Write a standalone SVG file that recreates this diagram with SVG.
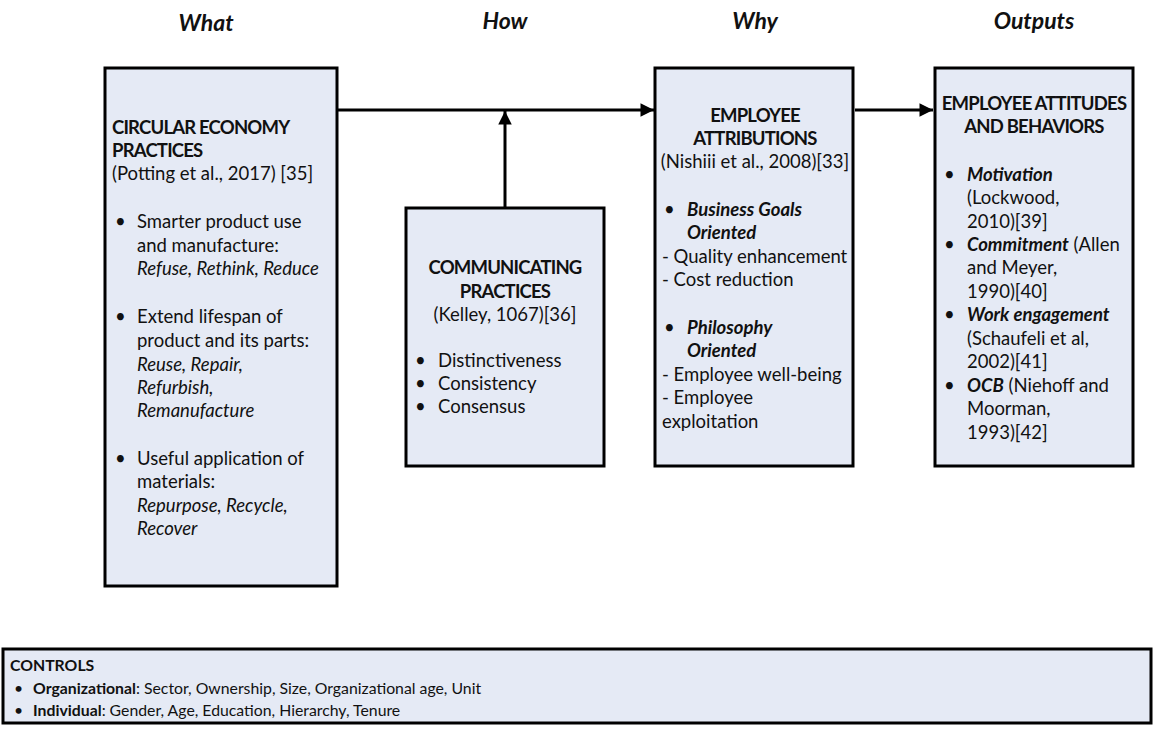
<svg xmlns="http://www.w3.org/2000/svg" width="1156" height="729" viewBox="0 0 1156 729">
<style>
text{font-family:Lato,"Open Sans","Liberation Sans",sans-serif;fill:#111;font-size:18.5px}
.hd{font-size:23px;font-weight:bold;font-style:italic}
.b{font-weight:bold}
.t{font-weight:bold;letter-spacing:-0.8px}
.i{font-style:italic}
.bi{font-weight:bold;font-style:italic}
.c{text-anchor:middle}
.box{fill:#e5eaf5;stroke:#000;stroke-width:3}
.ln{stroke:#000;stroke-width:3;fill:none}
.ctl{font-size:15.8px}
</style>
<defs>
<marker id="ah" viewBox="0 0 10 10" refX="10" refY="5" markerWidth="5.5" markerHeight="4.5" markerUnits="strokeWidth" orient="auto">
<path d="M0,0 L10,5 L0,10 z" fill="#000"/>
</marker>
</defs>
<rect width="1156" height="729" fill="#fff"/>
<g id="headers">
<text class="hd c" x="206" y="31">What</text>
<text class="hd c" x="505" y="29">How</text>
<text class="hd c" x="755" y="29">Why</text>
<text class="hd c" x="1034" y="29">Outputs</text>
</g>
<g id="connectors">
<line class="ln" x1="337" y1="110" x2="654" y2="110" marker-end="url(#ah)"/>
<line class="ln" x1="505" y1="208" x2="505" y2="111" marker-end="url(#ah)"/>
<line class="ln" x1="855" y1="110" x2="933" y2="110" marker-end="url(#ah)"/>
</g>
<g id="what">
<rect class="box" x="105" y="68" width="232" height="518"/>
<text class="t" x="112" y="134">CIRCULAR ECONOMY</text>
<text class="t" x="112" y="157">PRACTICES</text>
<text x="112" y="180">(Potting et al., 2017) [35]</text>
<text x="115" y="228">•</text>
<text x="137" y="228">Smarter product use</text>
<text x="137" y="252">and manufacture:</text>
<text class="i" x="137" y="275">Refuse, Rethink, Reduce</text>
<text x="115" y="323">•</text>
<text x="137" y="323">Extend lifespan of</text>
<text x="137" y="347">product and its parts:</text>
<text class="i" x="137" y="371">Reuse, Repair,</text>
<text class="i" x="137" y="394">Refurbish,</text>
<text class="i" x="137" y="417">Remanufacture</text>
<text x="115" y="465">•</text>
<text x="137" y="465">Useful application of</text>
<text x="137" y="488">materials:</text>
<text class="i" x="137" y="512">Repurpose, Recycle,</text>
<text class="i" x="137" y="535">Recover</text>
</g>
<g id="how">
<rect class="box" x="406" y="208" width="198" height="258"/>
<text class="t c" x="505" y="274">COMMUNICATING</text>
<text class="t c" x="505" y="298">PRACTICES</text>
<text class="c" x="505" y="321">(Kelley, 1067)[36]</text>
<text x="415" y="367">•</text>
<text x="438" y="367">Distinctiveness</text>
<text x="415" y="390">•</text>
<text x="438" y="390">Consistency</text>
<text x="415" y="413">•</text>
<text x="438" y="413">Consensus</text>
</g>
<g id="why">
<rect class="box" x="655" y="68" width="198" height="398"/>
<text class="t c" x="755" y="122">EMPLOYEE</text>
<text class="t c" x="755" y="145">ATTRIBUTIONS</text>
<text class="c" x="755" y="168">(Nishiii et al., 2008)[33]</text>
<text x="664" y="216">•</text>
<text class="bi" x="687" y="216">Business Goals</text>
<text class="bi" x="687" y="239">Oriented</text>
<text x="662" y="263">- Quality enhancement</text>
<text x="662" y="286">- Cost reduction</text>
<text x="664" y="334">•</text>
<text class="bi" x="687" y="334">Philosophy</text>
<text class="bi" x="687" y="357">Oriented</text>
<text x="662" y="381">- Employee well-being</text>
<text x="662" y="404">- Employee</text>
<text x="662" y="428">exploitation</text>
</g>
<g id="outputs">
<rect class="box" x="935" y="68" width="198" height="398"/>
<text class="t c" x="1034" y="110">EMPLOYEE ATTITUDES</text>
<text class="t c" x="1034" y="133">AND BEHAVIORS</text>
<text x="944" y="181">•</text>
<text class="bi" x="967" y="181">Motivation</text>
<text x="967" y="204">(Lockwood,</text>
<text x="967" y="228">2010)[39]</text>
<text x="944" y="251">•</text>
<text x="967" y="251"><tspan class="bi">Commitment</tspan> (Allen</text>
<text x="967" y="274">and Meyer,</text>
<text x="967" y="298">1990)[40]</text>
<text x="944" y="321">•</text>
<text class="bi" x="967" y="321">Work engagement</text>
<text x="967" y="345">(Schaufeli et al,</text>
<text x="967" y="368">2002)[41]</text>
<text x="944" y="392">•</text>
<text x="967" y="392"><tspan class="bi">OCB</tspan> (Niehoff and</text>
<text x="967" y="415">Moorman,</text>
<text x="967" y="439">1993)[42]</text>
</g>
<g id="controls">
<rect class="box" x="3" y="649" width="1148" height="74"/>
<text class="ctl b" x="10" y="671">CONTROLS</text>
<text class="ctl" x="14" y="694">•</text>
<text class="ctl" x="33" y="694"><tspan class="b">Organizational</tspan>: Sector, Ownership, Size, Organizational age, Unit</text>
<text class="ctl" x="14" y="716">•</text>
<text class="ctl" x="33" y="716"><tspan class="b">Individual</tspan>: Gender, Age, Education, Hierarchy, Tenure</text>
</g>
</svg>
